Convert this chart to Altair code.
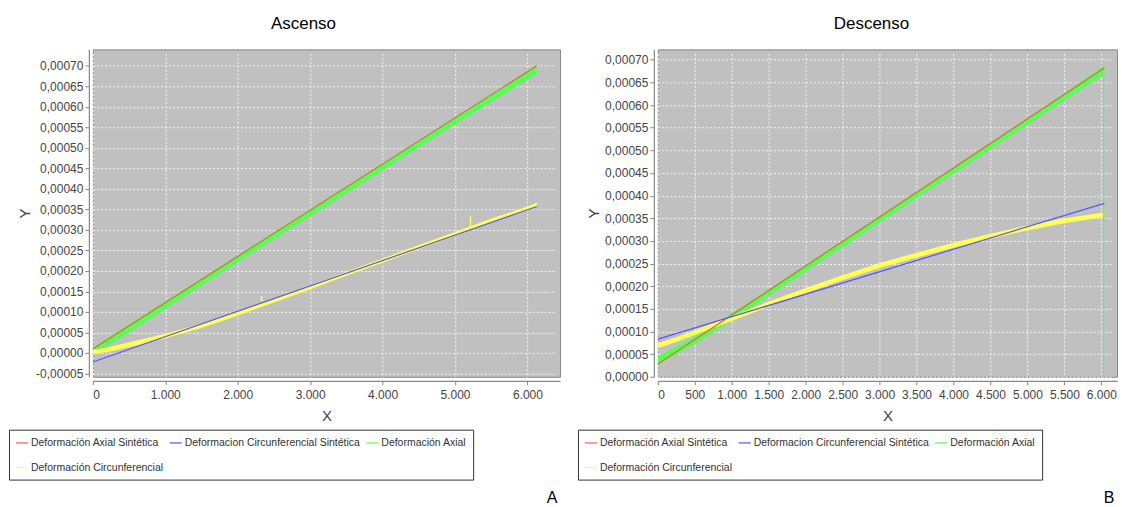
import altair as alt
import pandas as pd

SERIES = ["Deformación Axial Sintética", "Deformacion Circunferencial Sintética",
          "Deformación Axial", "Deformación Circunferencial"]
COLORS = ["#FF5555", "#5555FF", "#55FF55", "#FFFF55"]

# ---------------- Ascenso ----------------
asc_red_x = [0, 6130]
asc_red_y = [0.000010, 0.000700]
asc_blue_x = [0, 6130]
asc_blue_y = [-0.000022, 0.000357]
asc_green_x = [0, 500, 1000, 1500, 2000, 2500, 3000, 3500, 4000, 4500, 5000, 5500, 6130]
asc_green_lo = [-0.000006, 0.000050, 0.000107, 0.000164, 0.000221, 0.000277, 0.000333,
                0.000389, 0.000445, 0.000501, 0.000557, 0.000612, 0.000680]
asc_green_hi = [0.000014, 0.000071, 0.000127, 0.000183, 0.000239, 0.000295, 0.000351,
                0.000407, 0.000463, 0.000519, 0.000575, 0.000631, 0.000703]
asc_yellow_x = [0, 250, 500, 1000, 1500, 2000, 2500, 3000, 3500, 4000, 4500, 5000, 5500, 6000, 6130]
asc_yellow_lo = [-0.000003, 0.000004, 0.000014, 0.000036, 0.000061, 0.000091, 0.000123, 0.000155,
                 0.000188, 0.000220, 0.000253, 0.000285, 0.000318, 0.000347, 0.000357]
asc_yellow_hi = [0.000007, 0.000016, 0.000026, 0.000047, 0.000071, 0.000101, 0.000133, 0.000165,
                 0.000198, 0.000230, 0.000263, 0.000295, 0.000328, 0.000357, 0.000366]
asc_spike_x = [2330, 5214]
asc_spike_lo = [0.000127, 0.000307]
asc_spike_hi = [0.000139, 0.000333]
asc_x_ticks = [0, 1000, 2000, 3000, 4000, 5000, 6000]
asc_y_ticks = [-0.00005, 0.0, 0.00005, 0.0001, 0.00015, 0.0002, 0.00025, 0.0003, 0.00035,
               0.0004, 0.00045, 0.0005, 0.00055, 0.0006, 0.00065, 0.0007]

# ---------------- Descenso ----------------
des_red_x = [0, 6040]
des_red_y = [0.000028, 0.000682]
des_blue_x = [0, 6040]
des_blue_y = [0.000083, 0.000383]
des_green_x = [0, 500, 1000, 1500, 2000, 2500, 3000, 3500, 4000, 4500, 5000, 5500, 6040]
des_green_lo = [0.000026, 0.000072, 0.000124, 0.000178, 0.000232, 0.000286, 0.000340,
                0.000394, 0.000448, 0.000502, 0.000556, 0.000610, 0.000668]
des_green_hi = [0.000045, 0.000089, 0.000141, 0.000194, 0.000248, 0.000302, 0.000356,
                0.000410, 0.000464, 0.000518, 0.000572, 0.000627, 0.000688]
des_yellow_x = [0, 250, 500, 1000, 1500, 2000, 2500, 3000, 3500, 4000, 4500, 5000, 5500, 6040]
des_yellow_lo = [0.000063, 0.000077, 0.000092, 0.000123, 0.000155, 0.000185, 0.000213, 0.000240,
                 0.000263, 0.000285, 0.000305, 0.000323, 0.000339, 0.000353]
des_yellow_hi = [0.000074, 0.000088, 0.000103, 0.000134, 0.000166, 0.000196, 0.000224, 0.000251,
                 0.000274, 0.000296, 0.000316, 0.000334, 0.000350, 0.000363]
des_drop_x = [6030]
des_drop_lo = [0.0]
des_drop_hi = [0.000675]
des_x_ticks = [0, 500, 1000, 1500, 2000, 2500, 3000, 3500, 4000, 4500, 5000, 5500, 6000]
des_y_ticks = [0.0, 0.00005, 0.0001, 0.00015, 0.0002, 0.00025, 0.0003, 0.00035,
               0.0004, 0.00045, 0.0005, 0.00055, 0.0006, 0.00065, 0.0007]

FONT = "Liberation Sans"
GRAY_TXT = "#444444"


def lines_df(red_x, red_y, blue_x, blue_y):
    rows = []
    for x, y in zip(red_x, red_y):
        rows.append({"x": x, "y": y, "series": SERIES[0]})
    for x, y in zip(blue_x, blue_y):
        rows.append({"x": x, "y": y, "series": SERIES[1]})
    return pd.DataFrame(rows)


def band_df(xs, lo, hi):
    return pd.DataFrame({"x": xs, "lo": lo, "hi": hi})


def panel(title, letter, ldf, gdf, ydf, rules_y, rules_g, xdom, ydom, xticks, yticks,
          width, height, legend_x, legend_y, title_dx):
    xs = alt.Scale(domain=xdom, nice=False, zero=False)
    ys = alt.Scale(domain=ydom, nice=False, zero=False)
    xaxis = alt.Axis(values=xticks, tickCount=100, title="X", labelOverlap=False,
                     labelExpr="replace(format(datum.value, ','), ',', '.')")
    yaxis = alt.Axis(values=yticks, tickCount=100, title="Y", labelOverlap=False,
                     labelExpr="replace(replace(format(datum.value, '.5f'), '.', ','), '\u2212', '-')")

    green = alt.Chart(gdf).mark_area(color=COLORS[2], opacity=1, clip=True).encode(
        x=alt.X("x:Q", scale=xs, axis=xaxis),
        y=alt.Y("lo:Q", scale=ys, axis=yaxis),
        y2="hi:Q",
    )
    yellow = alt.Chart(ydf).mark_area(color=COLORS[3], opacity=1, clip=True).encode(
        x=alt.X("x:Q", scale=xs), y=alt.Y("lo:Q", scale=ys), y2="hi:Q"
    )
    layers = [green, yellow]
    if rules_y is not None:
        layers.append(alt.Chart(rules_y).mark_rule(color=COLORS[3], strokeWidth=1.5, clip=True).encode(
            x=alt.X("x:Q", scale=xs), y=alt.Y("lo:Q", scale=ys), y2="hi:Q"))
    if rules_g is not None:
        layers.append(alt.Chart(rules_g).mark_rule(color=COLORS[2], strokeWidth=1.2, clip=True).encode(
            x=alt.X("x:Q", scale=xs), y=alt.Y("lo:Q", scale=ys), y2="hi:Q"))
    lines = alt.Chart(ldf).mark_line(strokeWidth=1.2, clip=True).encode(
        x=alt.X("x:Q", scale=xs),
        y=alt.Y("y:Q", scale=ys),
        color=alt.Color("series:N",
                        scale=alt.Scale(domain=SERIES, range=COLORS),
                        legend=alt.Legend(
                            title=None, orient="none", legendX=legend_x, legendY=legend_y,
                            direction="horizontal", columns=3, symbolType="stroke",
                            symbolSize=150, symbolStrokeWidth=1.2, labelFont=FONT,
                            labelFontSize=10.5, labelColor="#333333", strokeColor="#333333",
                            fillColor="white", padding=6, rowPadding=12, columnPadding=3,
                            labelLimit=400, symbolOffset=0, labelOffset=2)),
        detail="series:N",
    )
    layers.append(lines)
    chart = alt.layer(*layers).properties(
        width=width, height=height,
        title=alt.Title(title, fontSize=17, font=FONT, fontWeight="normal", color="black",
                        anchor="middle", frame="group", dx=title_dx, offset=16),
    )
    return alt.vconcat(chart, title=alt.Title(letter, orient="bottom", anchor="end", fontSize=16,
                                              font=FONT, fontWeight="normal", color="black",
                                              offset=9, dx=-3)).resolve_scale(color="independent")


left = panel("Ascenso", "A",
             lines_df(asc_red_x, asc_red_y, asc_blue_x, asc_blue_y),
             band_df(asc_green_x, asc_green_lo, asc_green_hi),
             band_df(asc_yellow_x, asc_yellow_lo, asc_yellow_hi),
             band_df(asc_spike_x, asc_spike_lo, asc_spike_hi), None,
             [0, 6450], [-0.000058, 0.00074], asc_x_ticks, asc_y_ticks,
             468, 328, -84, 381, -23)
right = panel("Descenso", "B",
              lines_df(des_red_x, des_red_y, des_blue_x, des_blue_y),
              band_df(des_green_x, des_green_lo, des_green_hi),
              band_df(des_yellow_x, des_yellow_lo, des_yellow_hi),
              None, band_df(des_drop_x, des_drop_lo, des_drop_hi),
              [0, 6212], [0, 0.000723], des_x_ticks, des_y_ticks,
              460, 328, -80, 381, -16)

chart = alt.hconcat(left, right, spacing=16).resolve_scale(color="independent").properties(
    padding={"left": 0, "top": 6, "right": 0, "bottom": 0}
).configure_view(
    fill="#C0C0C0", stroke="#888888", strokeWidth=1
).configure_axis(
    grid=True, gridColor="white", gridDash=[2, 2], gridOpacity=0.85, gridWidth=1,
    domainColor="#888888", domainWidth=1.2, tickColor="#888888", tickSize=4,
    labelFont=FONT, labelFontSize=12, labelColor=GRAY_TXT,
    titleFont=FONT, titleFontSize=15, titleFontWeight="normal", titleColor=GRAY_TXT,
    offset=4,
).configure_axisY(titlePadding=3, labelPadding=2).configure_axisX(titlePadding=8, labelPadding=5)

chart.save("out.html", embed_options={"renderer": "svg", "actions": False})
